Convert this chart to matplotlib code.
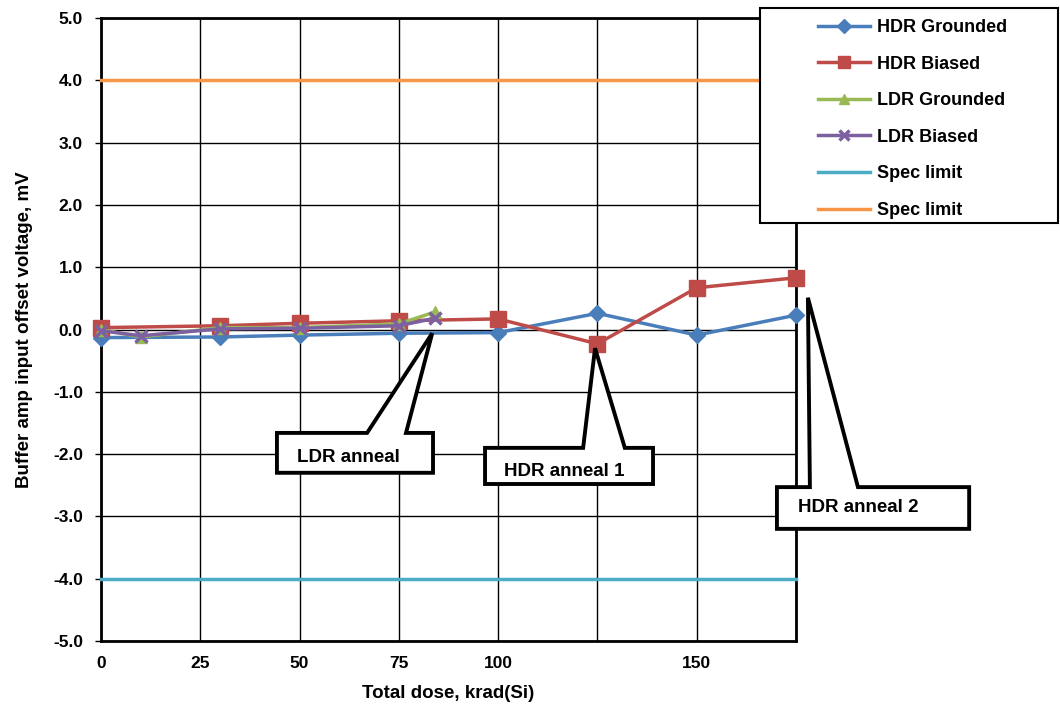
import matplotlib
matplotlib.use("Agg")
import matplotlib.pyplot as plt
from matplotlib.patches import Polygon, Rectangle
from matplotlib.lines import Line2D

plt.rcParams['font.family'] = ['Liberation Sans', 'DejaVu Sans']
plt.rcParams['font.weight'] = 'bold'

# ---- data ----
hdr_x = [0, 30, 50, 75, 100, 125, 150, 175]
hdr_grounded = [-0.13, -0.12, -0.09, -0.06, -0.05, 0.26, -0.09, 0.23]
hdr_biased = [0.03, 0.06, 0.10, 0.14, 0.17, -0.23, 0.67, 0.83]
ldr_x = [0, 10, 30, 50, 75, 84]
ldr_grounded = [0.0, -0.12, 0.03, 0.03, 0.09, 0.28]
ldr_biased = [-0.02, -0.10, 0.01, 0.02, 0.06, 0.18]
spec_x = [0, 175]
spec_low = [-4.0, -4.0]
spec_high = [4.0, 4.0]

x_ticks = [0, 25, 50, 75, 100, 125, 150, 175]
x_tick_labels = ['0', '25', '50', '75', '100', '', '150', '']
y_ticks = [-5, -4, -3, -2, -1, 0, 1, 2, 3, 4, 5]

c_blue = '#4A7EBB'
c_red = '#BE4B48'
c_green = '#98B954'
c_purple = '#7D60A0'
c_cyan = '#4BACC6'
c_orange = '#F79646'

W, H = 1060, 709
fig = plt.figure(figsize=(W / 100, H / 100), dpi=100)
ax = fig.add_axes([101 / W, 1 - 641 / H, 695 / W, 623 / H])

ax.set_xlim(0, 175)
ax.set_ylim(-5, 5)
ax.set_xticks(x_ticks)
ax.set_xticklabels(x_tick_labels)
ax.set_yticks(y_ticks)
ax.set_yticklabels([f'{v:.1f}' for v in y_ticks])
ax.grid(True, color='black', linewidth=1.0)
ax.set_axisbelow(True)
for s in ax.spines.values():
    s.set_linewidth(2.0)
ax.tick_params(axis='x', length=0, pad=11, labelsize=12.5)
ax.tick_params(axis='y', length=4, width=1.0, pad=9, labelsize=12.5)

ax.plot(hdr_x, hdr_grounded, color=c_blue, lw=2.5, marker='D', ms=8,
        label='HDR Grounded', zorder=3, clip_on=False)
ax.plot(hdr_x, hdr_biased, color=c_red, lw=2.5, marker='s', ms=11,
        label='HDR Biased', zorder=4, clip_on=False)
ax.plot(ldr_x, ldr_grounded, color=c_green, lw=2.5, marker='^', ms=9,
        label='LDR Grounded', zorder=5, clip_on=False)
ax.plot(ldr_x, ldr_biased, color=c_purple, lw=2.5, marker='x', ms=9, mew=2.5,
        label='LDR Biased', zorder=6, clip_on=False)
ax.plot(spec_x, spec_low, color=c_cyan, lw=2.5, label='Spec limit', zorder=3,
        clip_on=False)
ax.plot(spec_x, spec_high, color=c_orange, lw=2.5, label='Spec limit', zorder=3,
        clip_on=False)

ax.set_xlabel('Total dose, krad(Si)', fontsize=13.5, fontweight='bold', labelpad=10)
ax.set_ylabel('Buffer amp input offset voltage, mV', fontsize=13.5,
              fontweight='bold', labelpad=14)


def callout(x0, x1, y0, y1, bx0, bx1, tip, text, tpos):
    verts = [(x0, y0), (bx0, y0), tip, (bx1, y0), (x1, y0), (x1, y1), (x0, y1)]
    poly = Polygon(verts, closed=True, facecolor='white', edgecolor='black',
                   linewidth=2.8, joinstyle='miter', zorder=10, clip_on=False)
    ax.add_patch(poly)
    ax.text(tpos[0], tpos[1], text, ha='center', va='center',
            fontsize=13.5, fontweight='bold', zorder=11, clip_on=False)


callout(44.3, 83.6, -1.66, -2.30, 67.0, 76.8, (83.4, -0.06), 'LDR anneal',
        (62.2, -2.05))
callout(96.7, 139.0, -1.90, -2.48, 121.4, 131.9, (124.4, -0.30), 'HDR anneal 1',
        (116.7, -2.28))
callout(170.2, 218.6, -2.53, -3.20, 178.5, 190.6, (178.0, 0.51), 'HDR anneal 2',
        (190.6, -2.86))

# legend frame + legend
frame = Rectangle((760 / W, 1 - 223 / H), 298 / W, 215 / H, transform=fig.transFigure,
                  facecolor='white', edgecolor='black', linewidth=1.5, zorder=20)
fig.patches.append(frame)
handles, labels = ax.get_legend_handles_labels()
leg = fig.legend(handles, labels, loc='upper left',
                 bbox_to_anchor=(818 / W, 1 - 19 / H), frameon=False,
                 fontsize=13, labelspacing=1.085, handlelength=2.9,
                 handletextpad=0.35, borderpad=0, borderaxespad=0)
leg.set_zorder(21)
for h in leg.legend_handles:
    if isinstance(h, Line2D):
        h.set_markersize(h.get_markersize() * 0.85)

fig.savefig('out.png', dpi=100)
